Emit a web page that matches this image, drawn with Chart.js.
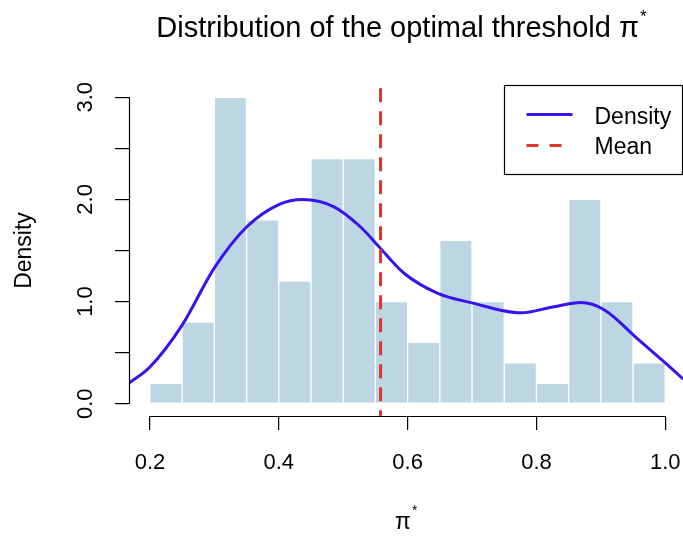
<!DOCTYPE html>
<html>
<head>
<meta charset="utf-8">
<script src="https://cdn.jsdelivr.net/npm/chart.js@4.4.1/dist/chart.umd.min.js"></script>
<style>
  html, body { margin: 0; padding: 0; background: #fff; }
  #histChart { display: block; }
</style>
</head>
<body>
<canvas id="histChart" width="683" height="536"></canvas>
<script>
// histogram bins (mid points, width 0.05) and their densities
const binMids = [0.225, 0.275, 0.325, 0.375, 0.425, 0.475, 0.525, 0.575,
                 0.625, 0.675, 0.725, 0.775, 0.825, 0.875, 0.925, 0.975];
const binDensity = [0.2, 0.8, 3.0, 1.8, 1.2, 2.4, 2.4, 1.0,
                    0.6, 1.6, 1.0, 0.4, 0.2, 2.0, 1.0, 0.4];

// kernel density curve
const densityX = [0.167, 0.2, 0.25, 0.3, 0.35, 0.4, 0.437, 0.485, 0.527, 0.558,
                  0.594, 0.647, 0.698, 0.776, 0.827, 0.869, 0.905, 0.958, 1.0, 1.028];
const densityY = [0.20, 0.36, 0.77, 1.33, 1.73, 1.95, 2.00, 1.93, 1.73, 1.52,
                  1.28, 1.08, 0.99, 0.89, 0.95, 0.99, 0.92, 0.63, 0.40, 0.24];

const meanValue = 0.558;

const xTicks = [0.2, 0.4, 0.6, 0.8, 1.0];
const yTicks = [0, 0.5, 1, 1.5, 2, 2.5, 3];
const yLabelled = [0, 1, 2, 3];

const FONT = '"Liberation Sans", Arial, sans-serif';
const BAR_COLOR = "#bcd7e3";
const DENS_COLOR = "#3a12ee";
const MEAN_COLOR = "#e0352b";

const decorations = {
  id: "decorations",
  afterDraw(chart) {
    const { ctx, chartArea: area, scales } = chart;
    const x = scales.x, y = scales.y;
    ctx.save();

    // R style axes, only spanning the tick range
    ctx.strokeStyle = "#000";
    ctx.lineWidth = 1.2;
    ctx.beginPath();
    ctx.moveTo(area.left + 0.5, y.getPixelForValue(yTicks[0]));
    ctx.lineTo(area.left + 0.5, y.getPixelForValue(yTicks[yTicks.length - 1]));
    ctx.moveTo(x.getPixelForValue(xTicks[0]), area.bottom + 0.5);
    ctx.lineTo(x.getPixelForValue(xTicks[xTicks.length - 1]), area.bottom + 0.5);
    ctx.stroke();

    ctx.fillStyle = "#000";
    ctx.textBaseline = "alphabetic";

    // title with superscript star
    const titleMain = "Distribution of the optimal threshold π";
    ctx.font = "29px " + FONT;
    const wMain = ctx.measureText(titleMain).width;
    ctx.font = "17px " + FONT;
    const wStar = ctx.measureText("*").width;
    const tx = (area.left + area.right) / 2 - 5 - (wMain + wStar) / 2;
    ctx.font = "29px " + FONT;
    ctx.textAlign = "left";
    ctx.fillText(titleMain, tx, 37);
    ctx.font = "17px " + FONT;
    ctx.fillText("*", tx + wMain + 1, 22);

    // x axis label π*
    ctx.font = "23px " + FONT;
    const wPi = ctx.measureText("π").width;
    const px = (area.left + area.right) / 2 - 3 - wPi / 2;
    ctx.fillText("π", px, 529);
    ctx.font = "14px " + FONT;
    ctx.fillText("*", px + wPi + 1, 515);

    // legend box
    const boxW = 178, boxH = 89;
    const bx = Math.round(area.right - boxW) - 0.5;
    const by = Math.round(area.top) + 0.5;
    ctx.lineWidth = 1.2;
    ctx.strokeStyle = "#000";
    ctx.strokeRect(bx, by, boxW, boxH);

    ctx.lineWidth = 3;
    ctx.strokeStyle = DENS_COLOR;
    ctx.beginPath();
    ctx.moveTo(bx + 22, by + 29);
    ctx.lineTo(bx + 68, by + 29);
    ctx.stroke();

    ctx.strokeStyle = MEAN_COLOR;
    ctx.setLineDash([12, 11]);
    ctx.beginPath();
    ctx.moveTo(bx + 22, by + 60);
    ctx.lineTo(bx + 68, by + 60);
    ctx.stroke();
    ctx.setLineDash([]);

    ctx.font = "23px " + FONT;
    ctx.fillStyle = "#000";
    ctx.fillText("Density", bx + 90, by + 38);
    ctx.fillText("Mean", bx + 90, by + 68);

    ctx.restore();
  }
};

const config = {
  type: "bar",
  data: {
    datasets: [
      {
        type: "line",
        label: "Mean",
        data: [{ x: meanValue, y: -0.2 }, { x: meanValue, y: 3.2 }],
        borderColor: MEAN_COLOR,
        borderWidth: 3,
        borderDash: [14, 9],
        pointRadius: 0,
        order: 1
      },
      {
        type: "line",
        label: "Density",
        data: densityX.map((v, i) => ({ x: v, y: densityY[i] })),
        borderColor: DENS_COLOR,
        borderWidth: 3,
        pointRadius: 0,
        cubicInterpolationMode: "monotone",
        order: 2
      },
      {
        type: "bar",
        label: "Histogram",
        data: binMids.map((v, i) => ({ x: v, y: binDensity[i] })),
        backgroundColor: BAR_COLOR,
        borderColor: "#ffffff",
        borderWidth: 1,
        borderSkipped: false,
        barPercentage: 1,
        categoryPercentage: 1,
        order: 3
      }
    ]
  },
  options: {
    responsive: false,
    animation: false,
    devicePixelRatio: 1,
    layout: { padding: { top: 85, left: 0, right: 0, bottom: 0 } },
    plugins: {
      legend: { display: false },
      title: { display: false },
      tooltip: { enabled: false }
    },
    scales: {
      x: {
        type: "linear",
        min: 0.1675,
        max: 1.0275,
        offset: false,
        afterBuildTicks: s => { s.ticks = xTicks.map(v => ({ value: v })); },
        afterFit: s => { s.height = 120; s.paddingLeft = 0; s.paddingRight = 0; },
        border: { display: false },
        grid: { offset: false, drawOnChartArea: false, drawTicks: true, tickLength: 14, color: "#000", lineWidth: 1.2 },
        ticks: {
          autoSkip: false,
          maxRotation: 0,
          padding: 20,
          color: "#000",
          font: { family: FONT, size: 22 },
          callback: v => v.toFixed(1)
        }
      },
      y: {
        type: "linear",
        min: -0.12,
        max: 3.12,
        afterBuildTicks: s => { s.ticks = yTicks.map(v => ({ value: v })); },
        afterFit: s => { s.width = 129; s.paddingTop = 0; s.paddingBottom = 0; },
        border: { display: false },
        grid: { drawOnChartArea: false, drawTicks: true, tickLength: 14, color: "#000", lineWidth: 1.2 },
        title: {
          display: true,
          text: "Density",
          color: "#000",
          font: { family: FONT, size: 23 },
          padding: { top: 11, bottom: 0 }
        },
        ticks: {
          autoSkip: false,
          minRotation: 90,
          maxRotation: 90,
          crossAlign: "center",
          padding: 14,
          color: "#000",
          font: { family: FONT, size: 22 },
          callback: v => (yLabelled.includes(v) ? v.toFixed(1) : "")
        }
      }
    }
  },
  plugins: [decorations]
};

new Chart(document.getElementById("histChart"), config);
</script>
</body>
</html>
